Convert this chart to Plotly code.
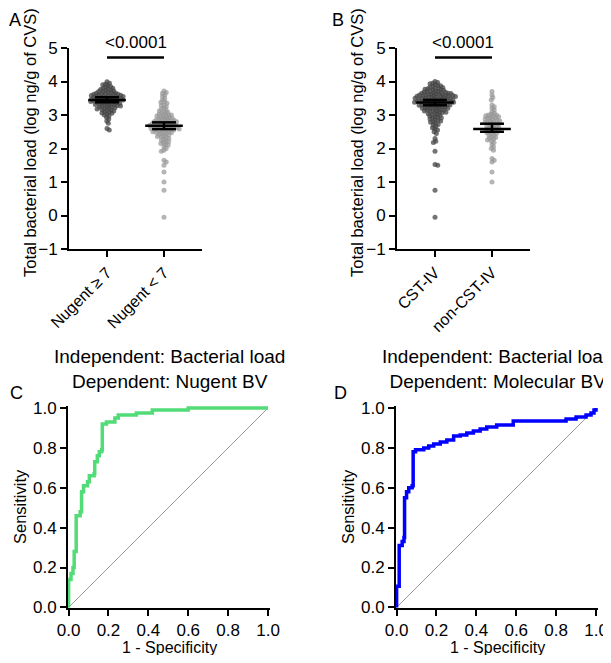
import math
import plotly.graph_objects as go

W, H = 611, 663
OFF = 8  # page body margin in the browser
FONT = "Liberation Sans, Arial, sans-serif"

# ---- panel A: bacterial load by Nugent score ----
groups_A = ["Nugent ≥ 7", "Nugent < 7"]
nugent_high = [3.99, 3.95, 3.92, 3.9, 3.88, 3.85, 3.83, 3.8, 3.8, 3.78, 3.76, 3.75, 3.73, 3.72,
               3.7, 3.7, 3.68, 3.67, 3.66, 3.65, 3.64, 3.63, 3.62, 3.62, 3.61, 3.6, 3.6, 3.59,
               3.58, 3.57, 3.57, 3.56, 3.55, 3.55, 3.54, 3.53, 3.52, 3.52, 3.51, 3.5, 3.5, 3.49,
               3.48, 3.48, 3.47, 3.46, 3.45, 3.45, 3.44, 3.43, 3.42, 3.42, 3.41, 3.4, 3.4, 3.39,
               3.38, 3.37, 3.36, 3.35, 3.35, 3.34, 3.33, 3.32, 3.31, 3.3, 3.3, 3.29, 3.28, 3.27,
               3.26, 3.25, 3.24, 3.23, 3.22, 3.2, 3.19, 3.18, 3.16, 3.15, 3.13, 3.12, 3.1, 3.08,
               3.06, 3.05, 3.03, 3.0, 2.97, 2.93, 2.88, 2.82, 2.75, 2.6, 2.55]
nugent_low = [3.72, 3.67, 3.65, 3.6, 3.55, 3.5, 3.45, 3.4, 3.38, 3.35, 3.3, 3.28, 3.25, 3.2,
              3.18, 3.15, 3.12, 3.1, 3.08, 3.05, 3.03, 3.02, 3.0, 3.0, 2.98, 2.97, 2.95, 2.94,
              2.92, 2.9, 2.9, 2.88, 2.87, 2.85, 2.85, 2.84, 2.83, 2.82, 2.8, 2.8, 2.79, 2.78,
              2.77, 2.76, 2.75, 2.75, 2.74, 2.73, 2.72, 2.71, 2.7, 2.7, 2.69, 2.68, 2.67, 2.66,
              2.65, 2.65, 2.64, 2.63, 2.62, 2.61, 2.6, 2.6, 2.59, 2.58, 2.57, 2.56, 2.55, 2.55,
              2.54, 2.52, 2.51, 2.5, 2.5, 2.48, 2.47, 2.45, 2.44, 2.42, 2.4, 2.38, 2.36, 2.35,
              2.33, 2.3, 2.28, 2.25, 2.22, 2.2, 2.18, 2.15, 2.12, 2.1, 2.05, 2.0, 1.95, 1.92,
              1.65, 1.6, 1.5, 1.3, 1.0, 0.75, -0.05]
mean_A = [3.45, 2.68]
lo_A = [3.38, 2.58]
hi_A = [3.53, 2.78]

# ---- panel B: bacterial load by CST ----
groups_B = ["CST-IV", "non-CST-IV"]
cst_iv = [4.0, 3.97, 3.95, 3.93, 3.9, 3.88, 3.87, 3.85, 3.83, 3.82, 3.8, 3.8, 3.78, 3.77, 3.75,
          3.75, 3.74, 3.72, 3.71, 3.7, 3.7, 3.69, 3.68, 3.67, 3.66, 3.65, 3.65, 3.64, 3.63, 3.62,
          3.62, 3.61, 3.6, 3.6, 3.6, 3.59, 3.58, 3.58, 3.57, 3.56, 3.56, 3.55, 3.55, 3.54, 3.53,
          3.53, 3.52, 3.51, 3.5, 3.5, 3.5, 3.49, 3.48, 3.48, 3.47, 3.46, 3.46, 3.45, 3.44, 3.44,
          3.43, 3.42, 3.42, 3.41, 3.4, 3.4, 3.4, 3.39, 3.38, 3.38, 3.37, 3.36, 3.35, 3.35, 3.34,
          3.33, 3.32, 3.32, 3.31, 3.3, 3.3, 3.29, 3.28, 3.27, 3.26, 3.25, 3.25, 3.24, 3.23, 3.22,
          3.21, 3.2, 3.2, 3.19, 3.18, 3.17, 3.16, 3.15, 3.14, 3.13, 3.12, 3.11, 3.1, 3.09, 3.08,
          3.07, 3.05, 3.04, 3.02, 3.0, 2.99, 2.97, 2.95, 2.93, 2.92, 2.9, 2.88, 2.86, 2.84, 2.82,
          2.8, 2.78, 2.75, 2.72, 2.7, 2.66, 2.62, 2.58, 2.55, 2.5, 2.45, 2.3, 2.22, 2.18, 1.92,
          1.52, 1.5, 0.75, -0.05]
non_cst_iv = [3.7, 3.6, 3.52, 3.45, 3.3, 3.25, 3.2, 3.15, 3.1, 3.05, 3.02, 3.0, 3.0, 2.98, 2.96,
              2.95, 2.93, 2.92, 2.9, 2.88, 2.87, 2.85, 2.83, 2.82, 2.8, 2.78, 2.77, 2.75, 2.73,
              2.72, 2.7, 2.68, 2.67, 2.65, 2.63, 2.62, 2.6, 2.58, 2.57, 2.55, 2.53, 2.52, 2.5,
              2.48, 2.47, 2.45, 2.43, 2.4, 2.38, 2.35, 2.33, 2.3, 2.28, 2.25, 2.22, 2.18, 2.12,
              2.05, 2.0, 1.95, 1.7, 1.65, 1.6, 1.3, 1.0]
mean_B = [3.37, 2.58]
lo_B = [3.29, 2.50]
hi_B = [3.45, 2.74]

p_text = "<0.0001"
p_bar_y = 4.72

# ---- panels C/D: ROC curves ----
fpr_C = [0, 0, 0.012, 0.022, 0.028, 0.038, 0.058, 0.065, 0.075, 0.095, 0.104, 0.128, 0.131,
         0.144, 0.154, 0.166, 0.169, 0.19, 0.224, 0.232, 0.249, 0.34, 0.42, 0.6, 1.0]
tpr_C = [0, 0.14, 0.17, 0.2, 0.28, 0.46, 0.48, 0.58, 0.61, 0.63, 0.66, 0.67, 0.73,
         0.76, 0.78, 0.79, 0.92, 0.93, 0.93, 0.95, 0.965, 0.975, 0.99, 1.0, 1.0]
auc_C = "AUC = 0.909"

fpr_D = [0, 0, 0.013, 0.028, 0.037, 0.04, 0.05, 0.061, 0.078, 0.083, 0.095, 0.136, 0.161,
         0.186, 0.219, 0.252, 0.286, 0.319, 0.352, 0.385, 0.419, 0.452, 0.502, 0.585, 0.784,
         0.85, 0.9, 0.95, 0.975, 0.99, 1.0]
tpr_D = [0, 0.106, 0.31, 0.33, 0.35, 0.55, 0.58, 0.6, 0.61, 0.78, 0.79, 0.80, 0.81,
         0.82, 0.83, 0.84, 0.86, 0.865, 0.875, 0.885, 0.895, 0.905, 0.915, 0.935, 0.935,
         0.945, 0.955, 0.965, 0.975, 0.99, 1.0]
auc_D = "AUC = 0.860"


def swarm(vals, center, d_px, y_scale, x_scale):
    """simple beeswarm: place points outward from centre without overlap"""
    order = sorted(range(len(vals)), key=lambda i: -vals[i])
    placed = []
    xs = [center] * len(vals)
    for i in order:
        y = vals[i] * y_scale
        near = [(px, py) for px, py in placed if abs(py - y) < d_px]
        cands = [0.0]
        for px, py in near:
            dx = math.sqrt(d_px ** 2 - (py - y) ** 2)
            cands += [px + dx, px - dx]
        cands.sort(key=abs)
        pick = 0.0
        for c in cands:
            if all((c - px) ** 2 + (y - py) ** 2 >= d_px ** 2 - 1e-6 for px, py in near):
                pick = c
                break
        placed.append((pick, y))
        xs[i] = center + pick / x_scale
    return xs


# keep the page from overflowing the window (body margin on every side)
FW, FH = W - OFF, H - 2 * OFF


def px(x):
    return (x - OFF) / FW


def py(y):
    return 1 - (y - OFF) / FH


fig = go.Figure()

Y_SCALE = 33.5   # px per log unit in A/B
X_SCALE = 57.0   # px per category in A/B
DOT = 2.8

dark = "rgba(70,70,70,0.75)"
light = "rgba(150,150,150,0.7)"

for ax, vals_list, means, los, his in [
    ("", [nugent_high, nugent_low], mean_A, lo_A, hi_A),
    ("2", [cst_iv, non_cst_iv], mean_B, lo_B, hi_B),
]:
    for k, vals in enumerate(vals_list):
        fig.add_trace(go.Scatter(
            x=swarm(vals, k, DOT, Y_SCALE, X_SCALE), y=vals, mode="markers",
            marker=dict(size=5, color=dark if k == 0 else light,
                        line=dict(width=0)),
            xaxis="x" + ax, yaxis="y" + ax, showlegend=False, cliponaxis=False))
    for k in range(2):
        # mean line, error bar, caps
        fig.add_trace(go.Scatter(
            x=[k - 0.33, k + 0.33, None, k, k, None, k - 0.21, k + 0.21, None, k - 0.21, k + 0.21],
            y=[means[k], means[k], None, los[k], his[k], None, los[k], los[k], None, his[k], his[k]],
            mode="lines", line=dict(color="black", width=2.5),
            xaxis="x" + ax, yaxis="y" + ax, showlegend=False))
    # significance bar
    fig.add_trace(go.Scatter(
        x=[0, 1], y=[p_bar_y, p_bar_y], mode="lines", line=dict(color="black", width=2.5),
        xaxis="x" + ax, yaxis="y" + ax, showlegend=False))
    fig.add_annotation(x=0.5, y=p_bar_y + 0.1, xref="x" + ax, yref="y" + ax, text=p_text,
                       showarrow=False, xanchor="center", yanchor="bottom",
                       font=dict(size=17, color="black"))

for ax, fpr, tpr, color, auc in [
    ("3", fpr_C, tpr_C, "#52dc78", auc_C),
    ("4", fpr_D, tpr_D, "#0000ff", auc_D),
]:
    fig.add_trace(go.Scatter(x=[0, 1], y=[0, 1], mode="lines",
                             line=dict(color="#808080", width=0.8),
                             xaxis="x" + ax, yaxis="y" + ax, showlegend=False))
    fig.add_trace(go.Scatter(x=fpr, y=tpr, mode="lines", line=dict(color=color, width=3.5, shape="hv"),
                             xaxis="x" + ax, yaxis="y" + ax, showlegend=False))
    fig.add_annotation(x=1.04, y=0.265, xref="x" + ax, yref="y" + ax, text=auc, showarrow=False,
                       xanchor="right", yanchor="middle", font=dict(size=17, color="black"))

axis_common = dict(showline=True, linecolor="black", linewidth=2, ticks="outside",
                   tickcolor="black", tickwidth=2, ticklen=6, showgrid=False, zeroline=False,
                   automargin=False, tickfont=dict(size=17, color="black"))

cat_x = dict(axis_common, range=[-0.667, 1.667], tickangle=-45, tickfont=dict(size=16, color="black"))
load_y = dict(axis_common, range=[-1, 5], tickvals=[-1, 0, 1, 2, 3, 4, 5])
roc_x = dict(axis_common, range=[-0.003, 1.01], tickvals=[0, 0.2, 0.4, 0.6, 0.8, 1.0], tickformat=".1f")
roc_y = dict(axis_common, range=[-0.003, 1.01], tickvals=[0, 0.2, 0.4, 0.6, 0.8, 1.0], tickformat=".1f")

fig.update_layout(
    template="none",
    width=FW, height=FH, margin=dict(l=0, r=0, t=0, b=0, pad=0, autoexpand=False),
    paper_bgcolor="white", plot_bgcolor="white",
    font=dict(family=FONT, color="black"),
    xaxis=dict(cat_x, domain=[px(69), px(202)], anchor="y", tickvals=[0, 1], ticktext=groups_A),
    yaxis=dict(load_y, domain=[py(249), py(48)], anchor="x"),
    xaxis2=dict(cat_x, domain=[px(397), px(530)], anchor="y2", tickvals=[0, 1], ticktext=groups_B),
    yaxis2=dict(load_y, domain=[py(249), py(48)], anchor="x2"),
    xaxis3=dict(roc_x, domain=[px(68), px(270)], anchor="y3"),
    yaxis3=dict(roc_y, domain=[py(608), py(406)], anchor="x3"),
    xaxis4=dict(roc_x, domain=[px(396), px(598)], anchor="y4"),
    yaxis4=dict(roc_y, domain=[py(608), py(406)], anchor="x4"),
)

ytitle = "Total bacterial load (log ng/g of CVS)"
labels = [("A", 7, 20), ("B", 330, 20), ("C", 8, 393), ("D", 332, 393)]
for t, x, y in labels:
    fig.add_annotation(x=px(x), y=py(y), xref="paper", yref="paper", text=t, showarrow=False,
                       xanchor="left", yanchor="middle", font=dict(size=18, color="black"))
for x in (30, 357):
    fig.add_annotation(x=px(x), y=py(143), xref="paper", yref="paper", text=ytitle, textangle=-90,
                       showarrow=False, xanchor="center", yanchor="middle",
                       font=dict(size=16.5, color="black"))
for x in (20, 348):
    fig.add_annotation(x=px(x), y=py(507), xref="paper", yref="paper", text="Sensitivity",
                       textangle=-90, showarrow=False, xanchor="center", yanchor="middle",
                       font=dict(size=16.5, color="black"))
for x in (169, 497):
    fig.add_annotation(x=px(x), y=py(647), xref="paper", yref="paper", text="1 - Specificity",
                       showarrow=False, xanchor="center", yanchor="middle",
                       font=dict(size=16, color="black"))
for x, dep in ((169, "Nugent BV"), (497, "Molecular BV")):
    fig.add_annotation(x=px(x), y=py(369), xref="paper", yref="paper",
                       text="Independent: Bacterial load<br>Dependent: " + dep,
                       showarrow=False, xanchor="center", yanchor="middle",
                       font=dict(size=19, color="black"))

fig.write_html("out.html")
